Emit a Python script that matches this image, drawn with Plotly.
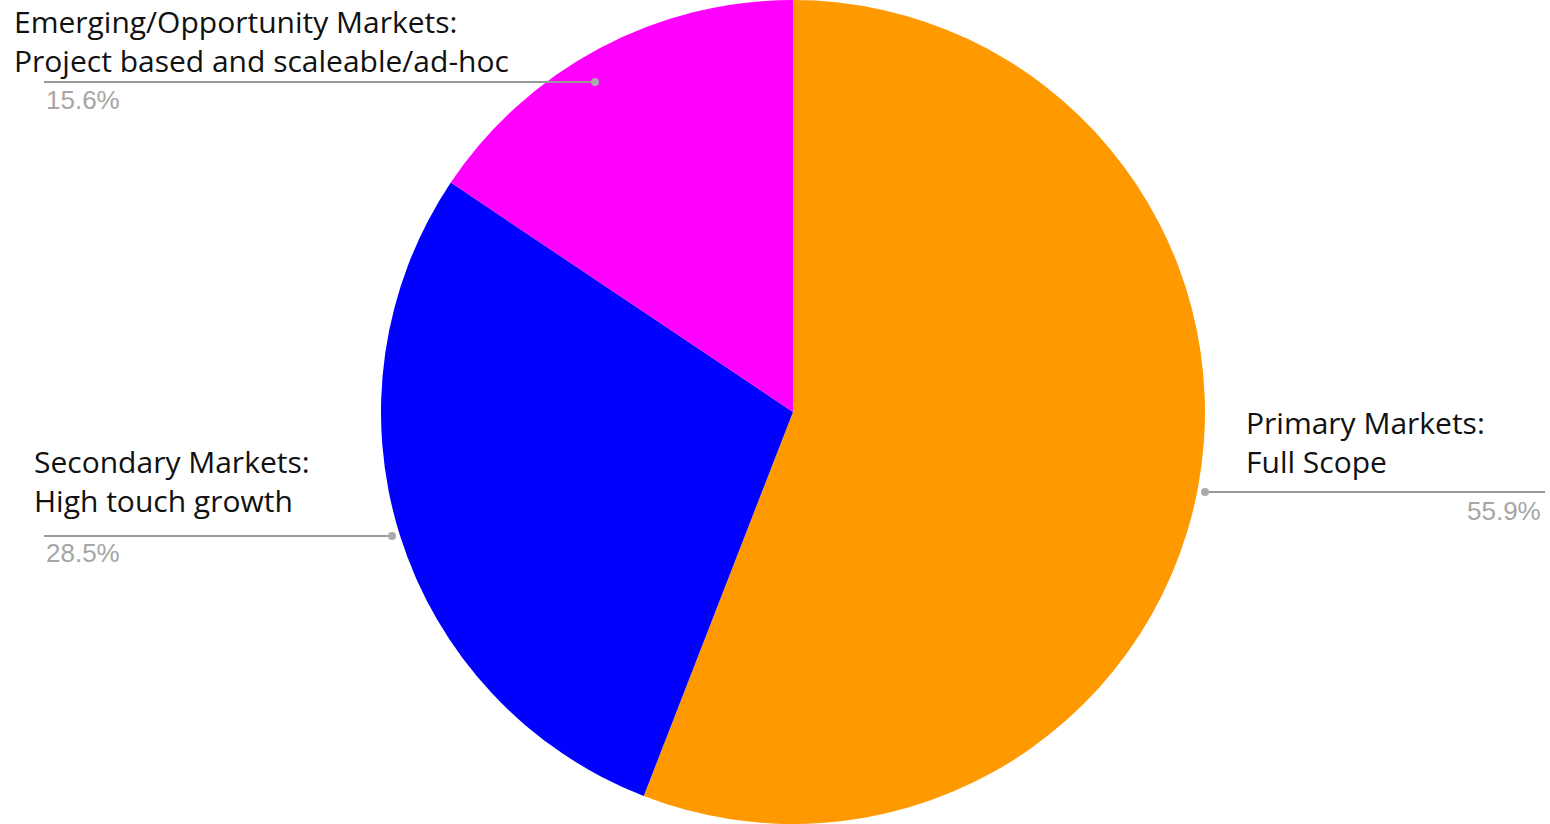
import plotly.graph_objects as go

W, H = 1550, 824

labels = ["Primary Markets:<br>Full Scope",
          "Secondary Markets:<br>High touch growth",
          "Emerging/Opportunity Markets:<br>Project based and scaleable/ad-hoc"]
values = [55.9, 28.5, 15.6]
pct_labels = ["55.9%", "28.5%", "15.6%"]
colors = ["#ff9900", "#0000ff", "#ff00ff"]

# label layout (pixel positions in the page)
label_pos = [(1244, 442, "left"), (32, 481, "left"), (12, 41, "left")]
pct_pos = [(1543, 511, "right"), (44, 553, "left"), (44, 100, "left")]
leader = [((1205, 492), (1545, 492)), ((44, 536), (392, 536)), ((44, 82), (595, 82))]
dots = [(1205, 492), (392, 536), (595, 82)]

def px(x):
    return x / W

def py(y):
    return 1 - y / H

fig = go.Figure()
fig.add_trace(go.Pie(
    labels=labels, values=values, marker=dict(colors=colors, line=dict(width=0)),
    sort=False, direction="clockwise", rotation=0, textinfo="none",
    hoverinfo="label+percent", showlegend=False,
    domain=dict(x=[381 / W, 1205 / W], y=[0, 1]),
))

annotations = []
shapes = []
for (x, y, a), t in zip(label_pos, labels):
    annotations.append(dict(x=px(x), y=py(y), xref="paper", yref="paper", text=t,
                            showarrow=False, xanchor=a, yanchor="middle", align=a,
                            font=dict(family="Open Sans", size=30, color="#111111")))
for (x, y, a), t in zip(pct_pos, pct_labels):
    annotations.append(dict(x=px(x), y=py(y), xref="paper", yref="paper", text=t,
                            showarrow=False, xanchor=a, yanchor="middle",
                            font=dict(family="Liberation Sans, Arial", size=26, color="#a6a6a6")))
for (a, b) in leader:
    shapes.append(dict(type="line", xref="paper", yref="paper",
                       x0=px(a[0]), y0=py(a[1]), x1=px(b[0]), y1=py(b[1]),
                       line=dict(color="#999999", width=2)))
for (x, y) in dots:
    shapes.append(dict(type="circle", xref="paper", yref="paper",
                       x0=px(x - 4), x1=px(x + 4), y0=py(y - 4), y1=py(y + 4),
                       fillcolor="#aaaaaa", line=dict(width=0)))

fig.update_layout(width=W, height=H, margin=dict(l=0, r=0, t=0, b=0),
                  paper_bgcolor="white", plot_bgcolor="white",
                  annotations=annotations, shapes=shapes)
fig.write_html("out.html")
